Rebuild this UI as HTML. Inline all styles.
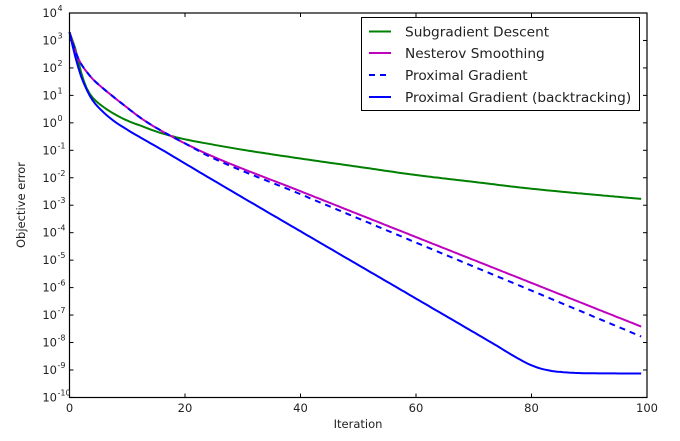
<!DOCTYPE html>
<html><head><style>
body{margin:0;background:#fff;}
svg text{font-family:"DejaVu Sans","Liberation Sans",sans-serif;fill:#222;}
</style></head><body>
<svg id="s" width="680" height="436" xmlns="http://www.w3.org/2000/svg">
<rect width="680" height="436" fill="#fff"/>
<g id="ticks"></g>
<g id="curves"></g>
<rect x="69.5" y="13" width="577.5" height="384.5" fill="none" stroke="#000" stroke-width="1.2"/>
<g font-size="11.5">
<text x="69.5" y="412" text-anchor="middle">0</text>
<text x="185" y="412" text-anchor="middle">20</text>
<text x="300.5" y="412" text-anchor="middle">40</text>
<text x="416" y="412" text-anchor="middle">60</text>
<text x="531.5" y="412" text-anchor="middle">80</text>
<text x="647" y="412" text-anchor="middle">100</text>
</g>
<text x="358" y="428" text-anchor="middle" font-size="11.5">Iteration</text>
<text transform="translate(25,205) rotate(-90)" text-anchor="middle" font-size="11.5">Objective error</text>
<g id="ylab" font-size="11.5"></g>
<rect x="361.5" y="17.5" width="278" height="93" fill="#fff" stroke="#000" stroke-width="1"/>
<line x1="369" y1="31.5" x2="391" y2="31.5" stroke="#008000" stroke-width="2"/>
<line x1="369" y1="53" x2="391" y2="53" stroke="#bf00bf" stroke-width="2"/>
<line x1="369" y1="75" x2="391" y2="75" stroke="#0000ff" stroke-width="2" stroke-dasharray="6,5"/>
<line x1="369" y1="97" x2="391" y2="97" stroke="#0000ff" stroke-width="2"/>
<g font-size="13.7">
<text x="405" y="36.5">Subgradient Descent</text>
<text x="405" y="58">Nesterov Smoothing</text>
<text x="405" y="80">Proximal Gradient</text>
<text x="405" y="102">Proximal Gradient (backtracking)</text>
</g>
</svg>
<script>
var NS="http://www.w3.org/2000/svg";
function X(v){return 69.5+v*5.775;}
function Y(l){return 13+(4-l)*27.46;}
function el(p,n,a){var e=document.createElementNS(NS,n);for(var k in a)e.setAttribute(k,a[k]);p.appendChild(e);return e;}
var t=document.getElementById("ticks"),yl=document.getElementById("ylab");
for(var i=0;i<=14;i++){var y=Y(4-i);
 el(t,"line",{x1:69.5,y1:y,x2:73.5,y2:y,stroke:"#000"});
 el(t,"line",{x1:647,y1:y,x2:643,y2:y,stroke:"#000"});
 var tx=el(yl,"text",{x:57,y:y+4,"text-anchor":"end"});tx.textContent="10";
 var s=el(yl,"text",{x:57.5,y:y-2,"font-size":"8"});s.textContent=String(4-i);
}
for(var v=0;v<=100;v+=20){var x=X(v);
 el(t,"line",{x1:x,y1:397.5,x2:x,y2:393.5,stroke:"#000"});
 el(t,"line",{x1:x,y1:13,x2:x,y2:17,stroke:"#000"});}
function interp(k){
 var n=k.length,d=[],m=[];
 for(var i=0;i<n-1;i++)d.push((k[i+1][1]-k[i][1])/(k[i+1][0]-k[i][0]));
 m[0]=d[0];m[n-1]=d[n-2];
 for(i=1;i<n-1;i++){ if(d[i-1]*d[i]<=0)m[i]=0; else {var h0=k[i][0]-k[i-1][0],h1=k[i+1][0]-k[i][0];
   var w1=2*h1+h0,w2=h1+2*h0; m[i]=(w1+w2)/(w1/d[i-1]+w2/d[i]);}}
 var pts=[];
 for(i=0;i<n-1;i++){var a=k[i],b=k[i+1],h=b[0]-a[0],N=Math.max(2,Math.ceil(h*2));
  for(var j=0;j<N;j++){var f=j/N,f2=f*f,f3=f2*f;
   var yv=(2*f3-3*f2+1)*a[1]+(f3-2*f2+f)*h*m[i]+(-2*f3+3*f2)*b[1]+(f3-f2)*h*m[i+1];
   pts.push([a[0]+h*f,yv]);}}
 pts.push(k[n-1]);
 return pts.map(function(p){return X(p[0]).toFixed(1)+","+Y(p[1]).toFixed(1)}).join(" ");}
var c=document.getElementById("curves");
var G=[[0,3.3],[1,2.7],[2,1.85],[3,1.25],[4,0.92],[5,0.72],[7,0.42],[10,0.08],[12,-0.08],[16,-0.38],[20,-0.6],[24,-0.76],[30,-0.98],[40,-1.3],[50,-1.6],[60,-1.9],[70,-2.15],[80,-2.4],[90,-2.6],[99,-2.77]];
var early=[[0,3.3],[1,2.6],[2,2.15],[3,1.85],[4,1.6],[5,1.4],[7,1.05],[10,0.55],[13,0.08],[16,-0.3],[20,-0.75],[24,-1.15]];
var M=early.concat([[40,-2.49],[60,-4.16],[80,-5.83],[99,-7.42]]);
var D=early.slice(0,11).concat([[24,-1.2],[40,-2.6],[60,-4.36],[80,-6.11],[99,-7.78]]);
var B=[[0,3.3],[1,2.4],[2,1.7],[3,1.2],[4,0.82],[6,0.36],[8,0.02],[10,-0.25],[13,-0.62],[16,-0.98],[20,-1.48],[24,-1.98],[40,-3.95],[60,-6.4],[74,-8.12],[78,-8.62],[80,-8.83],[82,-8.97],[84,-9.05],[87,-9.1],[90,-9.12],[99,-9.13]];
el(c,"polyline",{points:interp(G),fill:"none",stroke:"#008000","stroke-width":2});
el(c,"polyline",{points:interp(M),fill:"none",stroke:"#bf00bf","stroke-width":2});
el(c,"polyline",{points:interp(D),fill:"none",stroke:"#0000ff","stroke-width":2,"stroke-dasharray":"6,5"});
el(c,"polyline",{points:interp(B),fill:"none",stroke:"#0000ff","stroke-width":2});
</script>
</body></html>
